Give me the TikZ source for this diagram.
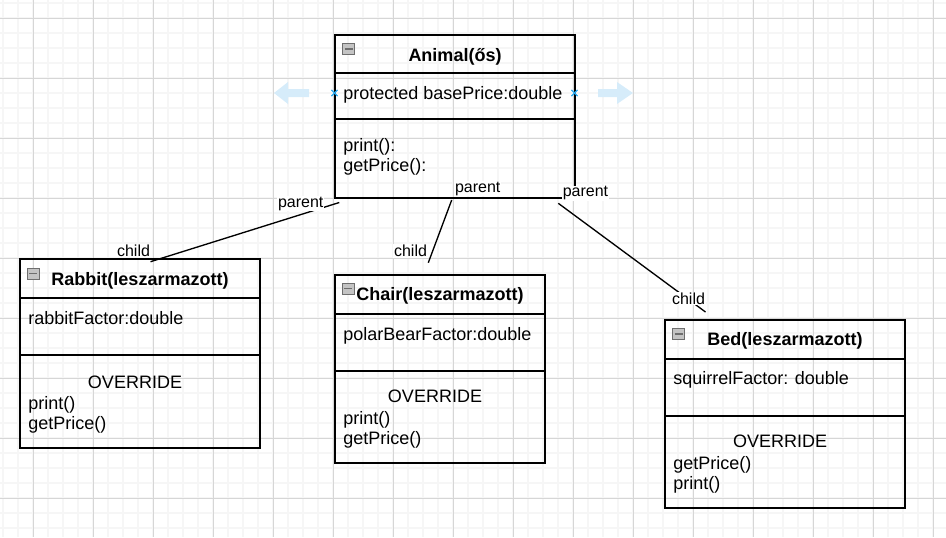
\documentclass[tikz,border=0pt]{standalone}
\usepackage{fontspec}
\setmainfont{Liberation Sans}
\usetikzlibrary{positioning,calc,shapes.misc}
\definecolor{gridmajor}{RGB}{214,214,214}
\definecolor{gridminor}{RGB}{246,246,246}
\definecolor{hoverblue}{RGB}{41,170,240}
\definecolor{hintblue}{RGB}{214,236,250}
\definecolor{iconfill}{RGB}{196,196,196}
\definecolor{iconline}{RGB}{110,110,110}

\begin{document}
\begin{tikzpicture}[
    x=0.75pt, y=-0.75pt,
    part/.style={rectangle, draw, line width=1pt, inner sep=0pt, outer sep=0pt, anchor=north west, minimum width=240*0.75pt},
    headpart/.style={part, minimum height=39*0.75pt},
    attrpart/.style={part, minimum height=57*0.75pt},
    methpart/.style={part, minimum height=92*0.75pt},
    classname/.style={font=\fontsize{13.5}{15}\selectfont\bfseries, inner sep=0pt, anchor=base},
    member/.style={font=\fontsize{13.5}{15}\selectfont, inner sep=0pt, anchor=base west},
    override/.style={member, anchor=base},
    edgelabel/.style={font=\fontsize{12}{14}\selectfont, fill=white, inner sep=0.6pt, anchor=base west},
    link/.style={line width=1pt},
    collapse/.style={rectangle, draw=iconline, fill=iconfill, line width=0.6pt, minimum width=12*0.75pt, minimum height=11*0.75pt, inner sep=0pt,
        path picture={\draw[line width=1.3pt] ([xshift=1.5pt]path picture bounding box.west) -- ([xshift=-1.5pt]path picture bounding box.east);}},
    hover/.style={cross out, draw=hoverblue, line width=0.9pt, minimum size=5*0.75pt, inner sep=0pt},
    hint/.style={fill=hintblue}
]
\useasboundingbox (0,0) rectangle (946,537);

% background grid
\foreach \g in {3,18,...,943} \draw[gridminor, line width=1.1pt] (\g,0) -- (\g,537);
\foreach \g in {3,18,...,528} \draw[gridminor, line width=1.1pt] (0,\g) -- (946,\g);
\foreach \g in {33,93,...,933} \draw[gridmajor, line width=0.75pt] (\g,0) -- (\g,537);
\foreach \g in {18,78,...,498} \draw[gridmajor, line width=0.75pt] (0,\g) -- (946,\g);

% Animal (parent class)
\node[headpart, minimum height=38*0.75pt] (animalhead) at (335,35) {};
\node[attrpart, minimum height=46*0.75pt] (animalattr) at (animalhead.south west) {};
\node[methpart, minimum height=79*0.75pt] (animalmeth) at (animalattr.south west) {};
\node[collapse] (animalicon) at (348.5,49) {};
\node[classname] (animalname) at (455,61.7) {Animal(ős)};
\node[member] (animalfield) at (343,99.3) {protected basePrice:double};
\node[member] (animalprint) at (343,151.5) {print():};
\node[member] (animalprice) at (343,171.5) {getPrice():};

% hover hints round the field
\fill[hint] (274,93) -- (288,82) -- (288,89) -- (309,89) -- (309,97) -- (288,97) -- (288,104) -- cycle;
\fill[hint] (633,93) -- (617,82) -- (617,89) -- (598,89) -- (598,97) -- (617,97) -- (617,104) -- cycle;
\node[hover] (hoverleft) at (334.5,93) {};
\node[hover] (hoverright) at (574.5,93) {};

% Rabbit
\node[headpart] (rabbithead) at (20,259) {};
\node[attrpart] (rabbitattr) at (rabbithead.south west) {};
\node[methpart, minimum height=93*0.75pt] (rabbitmeth) at (rabbitattr.south west) {};
\node[collapse] (rabbiticon) at (33,273.5) {};
\node[classname] (rabbitname) at (140,285.7) {Rabbit(leszarmazott)};
\node[member] (rabbitfield) at (28,324.3) {rabbitFactor:double};
\node[override] (rabbitover) at (135,388.3) {OVERRIDE};
\node[member] (rabbitprint) at (28,409) {print()};
\node[member] (rabbitprice) at (28,429) {getPrice()};

% Chair
\node[headpart, minimum width=210*0.75pt] (chairhead) at (335,275) {};
\node[attrpart, minimum width=210*0.75pt] (chairattr) at (chairhead.south west) {};
\node[methpart, minimum width=210*0.75pt] (chairmeth) at (chairattr.south west) {};
\node[collapse] (chairicon) at (348,288.5) {};
\node[classname] (chairname) at (440,300.7) {Chair(leszarmazott)};
\node[member] (chairfield) at (343,340) {polarBearFactor:double};
\node[override] (chairover) at (435,402.7) {OVERRIDE};
\node[member] (chairprint) at (343,424.3) {print()};
\node[member] (chairprice) at (343,444.3) {getPrice()};

% Bed
\node[headpart] (bedhead) at (665,320) {};
\node[attrpart] (bedattr) at (bedhead.south west) {};
\node[methpart] (bedmeth) at (bedattr.south west) {};
\node[collapse] (bedicon) at (678.5,334) {};
\node[classname] (bedname) at (785,345.7) {Bed(leszarmazott)};
\node[member] (bedfield) at (673,384) {squirrelFactor: double};
\node[override] (bedover) at (780,447.7) {OVERRIDE};
\node[member] (bedprice) at (673,469.3) {getPrice()};
\node[member] (bedprint) at (673,489.3) {print()};

% parent - child links
\draw[link] ($(animalmeth.south west)+(4.3,4.5)$) -- ($(rabbithead.north west)+(130.5,2.7)$);
\draw[link] ($(animalmeth.south west)+(116.7,2)$) -- ($(chairhead.north west)+(93.3,-12.3)$);
\draw[link] ($(animalmeth.south west)+(223.3,5.3)$) -- ($(bedhead.north west)+(40.5,-8)$);

\node[edgelabel] (parentrabbit) at (277,207) {parent};
\node[edgelabel] (parentchair) at (454,192.3) {parent};
\node[edgelabel] (parentbed) at (561.7,196.7) {parent};
\node[edgelabel] (childrabbit) at (116,256) {child};
\node[edgelabel] (childchair) at (393,256.7) {child};
\node[edgelabel] (childbed) at (671,304) {child};

\end{tikzpicture}
\end{document}
